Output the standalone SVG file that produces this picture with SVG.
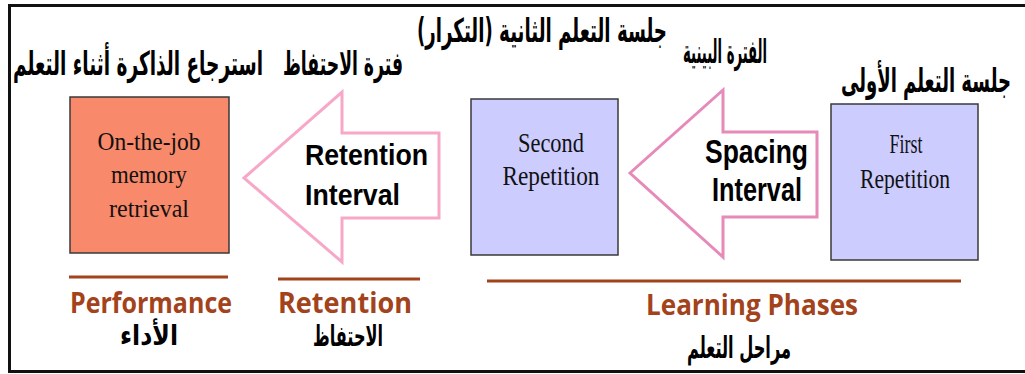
<svg xmlns="http://www.w3.org/2000/svg" width="1025" height="374" viewBox="0 0 1025 374">
  <style>
    .frame { fill: #ffffff; stroke: #111111; stroke-width: 3; }
    .box { stroke: #3a3a3a; stroke-width: 1.5; }
    .perf { fill: #F8896A; }
    .rep { fill: #CCCCFF; }
    .serif { font-family: "Liberation Serif", "Times New Roman", serif; fill: #111111; text-anchor: middle; }
    .arrow { fill: #ffffff; stroke-width: 3; stroke-linejoin: miter; }
    .arrow-ret { stroke: #F7A8C8; }
    .arrow-spc { stroke: #E68ABA; }
    .albl { font-family: "Liberation Sans", Arial, sans-serif; font-weight: bold; fill: #000000; }
    .ar { font-family: "DejaVu Sans", "Noto Sans", sans-serif; font-weight: bold; fill: #000000; text-anchor: middle; direction: rtl; }
    .phase { stroke: #A3431C; stroke-width: 3; }
    .ptitle { font-family: "Open Sans", Lato, sans-serif; font-weight: bold; fill: #A3431C; text-anchor: middle; }
  </style>

  <!-- outer frame -->
  <rect class="frame" x="9.5" y="5.5" width="1030" height="366"/>

  <!-- top Arabic captions -->
  <g id="captions">
    <text class="ar" x="138" y="75" font-size="33" textLength="250" lengthAdjust="spacingAndGlyphs">استرجاع الذاكرة أثناء التعلم</text>
    <text class="ar" x="343" y="75" font-size="33" textLength="120" lengthAdjust="spacingAndGlyphs">فترة الاحتفاظ</text>
    <text class="ar" x="542" y="42" font-size="33" textLength="250" lengthAdjust="spacingAndGlyphs">جلسة التعلم الثانية (التكرار)</text>
    <text class="ar" x="725" y="63" font-size="33" textLength="84" lengthAdjust="spacingAndGlyphs">الفترة البينية</text>
    <text class="ar" x="926" y="92" font-size="33" textLength="170" lengthAdjust="spacingAndGlyphs">جلسة التعلم الأولى</text>
  </g>

  <!-- memory retrieval -->
  <g id="node-retrieval">
    <rect class="box perf" x="70" y="97" width="159" height="156"/>
    <text class="serif" x="149" y="150" font-size="26" textLength="103" lengthAdjust="spacingAndGlyphs">On-the-job</text>
    <text class="serif" x="149" y="183" font-size="26" textLength="76" lengthAdjust="spacingAndGlyphs">memory</text>
    <text class="serif" x="149" y="217" font-size="26" textLength="80" lengthAdjust="spacingAndGlyphs">retrieval</text>
  </g>

  <!-- second repetition -->
  <g id="node-second">
    <rect class="box rep" x="471" y="99" width="147" height="156"/>
    <text class="serif" x="551" y="152" font-size="27" textLength="66" lengthAdjust="spacingAndGlyphs">Second</text>
    <text class="serif" x="551" y="185" font-size="27" textLength="97" lengthAdjust="spacingAndGlyphs">Repetition</text>
  </g>

  <!-- first repetition -->
  <g id="node-first">
    <rect class="box rep" x="831" y="104" width="147" height="156"/>
    <text class="serif" x="906" y="153" font-size="27" textLength="33" lengthAdjust="spacingAndGlyphs">First</text>
    <text class="serif" x="905" y="188" font-size="27" textLength="90" lengthAdjust="spacingAndGlyphs">Repetition</text>
  </g>

  <!-- interval block arrows -->
  <g id="connectors">
    <g id="retention-interval">
      <polygon class="arrow arrow-ret" points="244,178 342,92 342,133 439,133 439,218 342,218 342,262"/>
      <text class="albl" x="305" y="165" font-size="30" textLength="123" lengthAdjust="spacingAndGlyphs">Retention</text>
      <text class="albl" x="305" y="205" font-size="30" textLength="95" lengthAdjust="spacingAndGlyphs">Interval</text>
    </g>
    <g id="spacing-interval">
      <polygon class="arrow arrow-spc" points="630,173 723,90 723,132 817,132 817,217 723,217 723,257"/>
      <text class="albl" x="705" y="163" font-size="33" textLength="103" lengthAdjust="spacingAndGlyphs">Spacing</text>
      <text class="albl" x="712" y="201" font-size="33" textLength="90" lengthAdjust="spacingAndGlyphs">Interval</text>
    </g>
  </g>

  <!-- phase bars and titles -->
  <g id="phase-performance">
    <line class="phase" x1="69" y1="277" x2="228" y2="277"/>
    <text class="ptitle" x="151" y="313" font-size="28" textLength="162" lengthAdjust="spacingAndGlyphs">Performance</text>
    <text class="ar" x="149" y="345" font-size="28" textLength="58" lengthAdjust="spacingAndGlyphs">الأداء</text>
  </g>
  <g id="phase-retention">
    <line class="phase" x1="278" y1="279" x2="420" y2="279"/>
    <text class="ptitle" x="345" y="313" font-size="28" textLength="134" lengthAdjust="spacingAndGlyphs">Retention</text>
    <text class="ar" x="348" y="346" font-size="29" textLength="70" lengthAdjust="spacingAndGlyphs">الاحتفاظ</text>
  </g>
  <g id="phase-learning">
    <line class="phase" x1="487" y1="281" x2="961" y2="281"/>
    <text class="ptitle" x="752" y="315" font-size="28" textLength="212" lengthAdjust="spacingAndGlyphs">Learning Phases</text>
    <text class="ar" x="739" y="358" font-size="30" textLength="104" lengthAdjust="spacingAndGlyphs">مراحل التعلم</text>
  </g>
</svg>
